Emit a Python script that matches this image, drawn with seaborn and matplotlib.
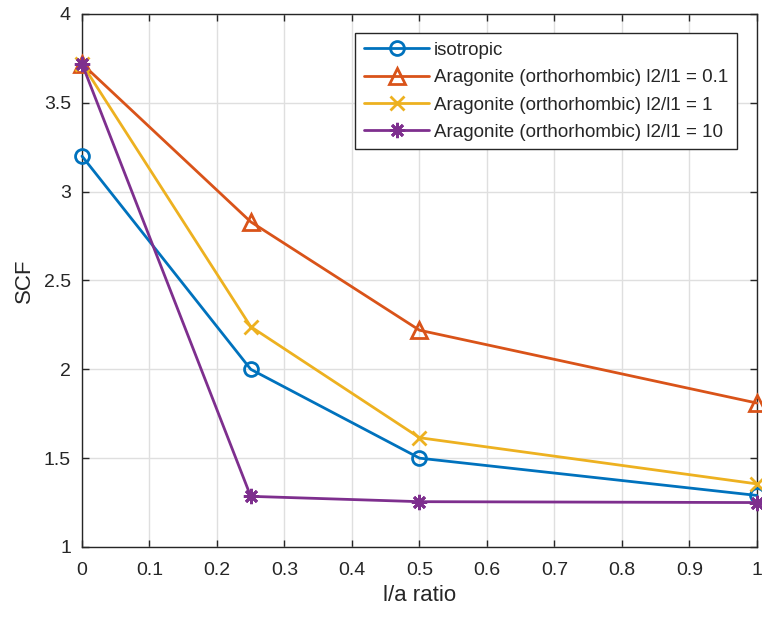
import matplotlib
matplotlib.use("Agg")
import matplotlib.pyplot as plt
import seaborn as sns
import pandas as pd

ratio = [0.0, 0.25, 0.5, 1.0]
isotropic = [3.20, 2.00, 1.50, 1.29]
arag_01 = [3.72, 2.83, 2.22, 1.81]
arag_1 = [3.72, 2.24, 1.615, 1.355]
arag_10 = [3.72, 1.285, 1.255, 1.25]
labels = ["isotropic",
          "Aragonite (orthorhombic) l2/l1 = 0.1",
          "Aragonite (orthorhombic) l2/l1 = 1",
          "Aragonite (orthorhombic) l2/l1 = 10"]
series = [isotropic, arag_01, arag_1, arag_10]
colors = ["#0072BD", "#D95319", "#EDB120", "#7E2F8E"]
markers = ["o", "^", "x", (8, 2, 0)]
msizes = [10, 11, 10, 11]

sns.set_theme(style="whitegrid")
plt.rcParams['font.family'] = ['Liberation Sans', 'DejaVu Sans']

fig = plt.figure(figsize=(7.62, 6.21), dpi=100)
ax = fig.add_axes([0.1076, 0.1192, 0.8858, 0.8583])

for lab, vals, c, m, ms in zip(labels, series, colors, markers, msizes):
    df = pd.DataFrame({"x": ratio, "y": vals})
    sns.lineplot(data=df, x="x", y="y", ax=ax, color=c, marker=m, markersize=ms,
                 markerfacecolor="none", markeredgecolor=c, markeredgewidth=2,
                 linewidth=2, label=lab, clip_on=False, zorder=3)

ax.set_xlim(0, 1)
ax.set_ylim(1, 4)
ax.set_xticks([0, 0.1, 0.2, 0.3, 0.4, 0.5, 0.6, 0.7, 0.8, 0.9, 1])
ax.set_xticklabels(["0", "0.1", "0.2", "0.3", "0.4", "0.5", "0.6", "0.7", "0.8", "0.9", "1"])
ax.set_yticks([1, 1.5, 2, 2.5, 3, 3.5, 4])
ax.set_yticklabels(["1", "1.5", "2", "2.5", "3", "3.5", "4"])
ax.set_xlabel("l/a ratio", fontsize=16, color="#262626", labelpad=4)
ax.set_ylabel("SCF", fontsize=16, color="#262626", labelpad=6)
ax.set_facecolor("white")
ax.grid(True, color="#dfdfdf", linewidth=1)
for s in ax.spines.values():
    s.set_visible(True)
    s.set_color("#262626")
    s.set_linewidth(1)
ax.tick_params(axis="both", direction="in", length=5, width=1, color="#262626",
               labelsize=14, labelcolor="#262626", top=True, right=True,
               bottom=True, left=True)
ax.tick_params(axis="x", pad=11)
ax.tick_params(axis="y", pad=8)

leg = ax.legend(loc="upper right", bbox_to_anchor=(0.970, 0.964), fontsize=13.5,
                frameon=True, fancybox=False, framealpha=1, borderpad=0.45,
                handlelength=3.5, handletextpad=0.25, labelspacing=0.55,
                borderaxespad=0)
leg.get_frame().set_edgecolor("#262626")
leg.get_frame().set_linewidth(1)

fig.savefig("out.png", dpi=100)
